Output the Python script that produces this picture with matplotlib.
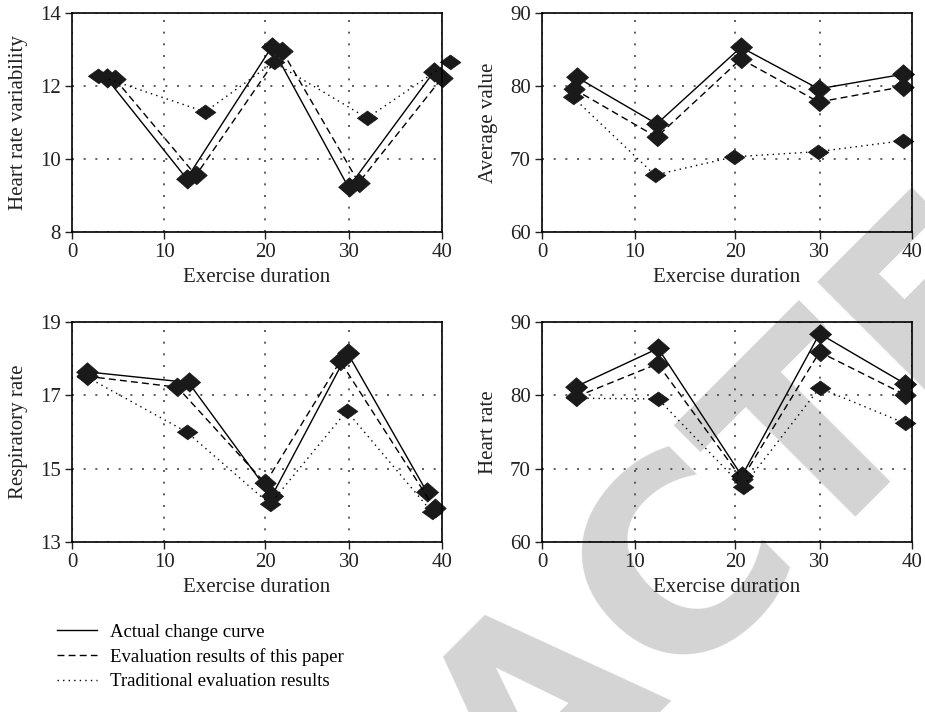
import matplotlib
matplotlib.use('Agg')
import matplotlib.pyplot as plt
from matplotlib.lines import Line2D

plt.rcParams['font.family'] = ['Liberation Serif', 'DejaVu Serif']

# gridlines in the original are not evenly spaced, so place ticks where they are drawn
X_TICKS = [0, 10, 20.9, 30, 40]
X_TICK_LABELS = ['0', '10', '20', '30', '40']
X_LABEL = 'Exercise duration'
SERIES_NAMES = ['Actual change curve', 'Evaluation results of this paper',
                'Traditional evaluation results']

# heart rate variability
hrv_x_actual = [3.75, 12.4, 21.6, 29.9, 39.1]
hrv_actual = [12.21, 9.46, 13.07, 9.22, 12.38]
hrv_x_paper = [4.65, 13.4, 22.7, 31.0, 40.0]
hrv_paper = [12.19, 9.55, 12.97, 9.35, 12.22]
hrv_x_trad = [2.84, 14.4, 21.8, 31.9, 40.9]
hrv_trad = [12.28, 11.29, 12.65, 11.12, 12.67]

# average value
avg_x_actual = [3.75, 12.4, 21.5, 29.9, 39.0]
avg_actual = [81.2, 74.8, 85.3, 79.6, 81.6]
avg_x_paper = [3.4, 12.4, 21.5, 29.9, 39.0]
avg_paper = [79.6, 73.0, 83.7, 77.8, 79.9]
avg_x_trad = [3.3, 12.2, 20.8, 29.8, 39.0]
avg_trad = [78.5, 67.8, 70.3, 71.0, 72.5]

# respiratory rate
resp_x_actual = [1.6, 12.6, 21.6, 29.8, 38.4]
resp_actual = [17.64, 17.35, 14.25, 18.15, 14.35]
resp_x_paper = [1.6, 11.4, 20.9, 29.0, 39.2]
resp_paper = [17.52, 17.22, 14.6, 17.93, 13.92]
resp_x_trad = [1.6, 12.4, 21.4, 29.7, 38.9]
resp_trad = [17.5, 16.0, 14.03, 16.57, 13.82]

# heart rate
hr_x_actual = [3.7, 12.55, 21.6, 30.0, 39.2]
hr_actual = [81.2, 86.4, 69.0, 88.4, 81.6]
hr_x_paper = [3.7, 12.5, 21.6, 30.0, 39.2]
hr_paper = [79.8, 84.3, 68.6, 85.9, 80.1]
hr_x_trad = [3.7, 12.55, 21.7, 30.0, 39.2]
hr_trad = [79.6, 79.5, 67.5, 81.0, 76.2]

panels = [
    ('Heart rate variability', (8, 14), [8, 10, 12, 14],
     [0.0778, 0.6742, 0.4, 0.3076],
     [(hrv_x_actual, hrv_actual), (hrv_x_paper, hrv_paper), (hrv_x_trad, hrv_trad)]),
    ('Average value', (60, 90), [60, 70, 80, 90],
     [0.586, 0.6742, 0.4, 0.3076],
     [(avg_x_actual, avg_actual), (avg_x_paper, avg_paper), (avg_x_trad, avg_trad)]),
    ('Respiratory rate', (13, 19), [13, 15, 17, 19],
     [0.0778, 0.2388, 0.4, 0.309],
     [(resp_x_actual, resp_actual), (resp_x_paper, resp_paper), (resp_x_trad, resp_trad)]),
    ('Heart rate', (60, 90), [60, 70, 80, 90],
     [0.586, 0.2388, 0.4, 0.309],
     [(hr_x_actual, hr_actual), (hr_x_paper, hr_paper), (hr_x_trad, hr_trad)]),
]

line_styles = ['-', (0, (5, 3)), (0, (1, 3))]
DIAMOND = [(-1, 0), (0, 0.88), (1, 0), (0, -0.88)]
FLAT_DIAMOND = [(-1, 0), (0, 0.72), (1, 0), (0, -0.72)]
markers = [DIAMOND, DIAMOND, FLAT_DIAMOND]
marker_sizes = [16, 15.5, 15]
MARK = '#1a1a1a'

fig = plt.figure(figsize=(9.25, 7.12), dpi=100)

# retraction watermark behind the plots
fig.text(0.589, 0.017, 'RETRACTED', rotation=45, rotation_mode='anchor',
         ha='center', va='center', fontsize=190, fontweight='bold',
         family='DejaVu Sans', color='#d4d4d4', zorder=-1)

for ylabel, ylim, yticks, rect, series in panels:
    ax = fig.add_axes(rect)
    ax.set_facecolor('none')
    for (xs, ys), ls, mk, ms in zip(series, line_styles, markers, marker_sizes):
        ax.plot(xs, ys, color='black', lw=1.0, ls=ls, marker=mk, ms=ms,
                mfc=MARK, mec=MARK, mew=0.5, clip_on=False)
    ax.set_xlim(0, 40)
    ax.set_ylim(*ylim)
    ax.set_xticks(X_TICKS, X_TICK_LABELS)
    ax.set_yticks(yticks)
    ax.grid(True, ls=(0, (1.2, 5.8)), lw=1.2, color='#444444')
    ax.tick_params(direction='out', length=5, width=1, labelsize=15, pad=3,
                   colors='#222222')
    for sp in ax.spines.values():
        sp.set_linewidth(1.2)
    ax.set_xlabel(X_LABEL, fontsize=15, color='#222222')
    ax.xaxis.set_label_coords(0.5, -0.165)
    ax.set_ylabel(ylabel, fontsize=15, color='#222222')
    ax.yaxis.set_label_coords(-0.12, 0.5)

handles = [Line2D([], [], color='black', lw=1.0, ls=ls) for ls in line_styles]
fig.legend(handles, SERIES_NAMES, loc='upper left', bbox_to_anchor=(0.062, 0.124),
           frameon=False, fontsize=13.5, handlelength=2.1, handletextpad=0.7,
           labelspacing=0.38, borderpad=0, borderaxespad=0)

fig.savefig('out.png', dpi=100)
